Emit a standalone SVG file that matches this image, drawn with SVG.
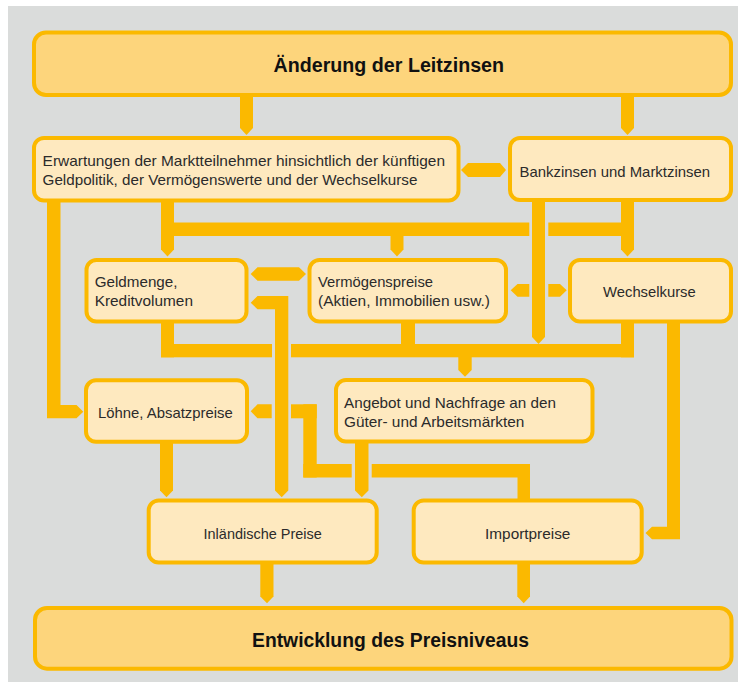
<svg xmlns="http://www.w3.org/2000/svg" width="742" height="686" viewBox="0 0 742 686">
<style>
.bg{fill:#DADCDB}
.box{fill:#FEE9BF;stroke:#FBB900;stroke-width:4}
.main{fill:#FDD57C;stroke:#FBB900;stroke-width:4}
.c{fill:#FBB900}
text{font-family:"Liberation Sans",Arial,sans-serif;fill:#2b2b2b;font-size:15px}
.t{font-size:19.5px;font-weight:bold;fill:#111}
.m{text-anchor:middle}
</style>
<rect class="bg" x="8" y="6" width="730" height="676"/>
<g id="connectors" class="c">
  <polygon points="240,95 253,95 253,128 246.5,135 240,128"/>
  <polygon points="621,95 634,95 634,128 627.5,135 621,128"/>
  <polygon points="461,170 468,163 500,163 506,170 500,177 468,177"/>
  <path d="M47,200 H60.5 V405 H76.5 L83.3,411.7 L76.5,418.3 H47 Z"/>
  <polygon points="161,200 174,200 174,249.5 167.5,256.5 161,249.5"/>
  <rect x="161" y="222.5" width="368.3" height="13.5"/>
  <rect x="548.3" y="222.5" width="85.7" height="13.5"/>
  <polygon points="390.5,230 403.5,230 403.5,249.5 397,256.5 390.5,249.5"/>
  <polygon points="532,200 545,200 545,337 538.5,344 532,337"/>
  <polygon points="621,200 634,200 634,249.5 627.5,256.5 621,249.5"/>
  <polygon points="250.7,274 257.5,267.3 299,267.3 306,274 299,280.7 257.5,280.7"/>
  <polygon points="510.7,290.3 517.5,284 529.3,284 529.3,296.7 517.5,296.7"/>
  <polygon points="548.3,284 560,284 566.7,290.3 560,296.7 548.3,296.7"/>
  <path d="M250.7,302.7 L257.5,296 H288.3 V490.5 L281.7,497.3 L275,490.5 V309.3 H257.5 Z"/>
  <rect x="161" y="321" width="13" height="36.3"/>
  <rect x="161" y="344" width="111" height="13.3"/>
  <rect x="291" y="344" width="343" height="13.3"/>
  <rect x="401" y="321" width="14" height="25"/>
  <rect x="621" y="321" width="13" height="36.3"/>
  <polygon points="458.3,355 471.7,355 471.7,370 465,376.7 458.3,370"/>
  <path d="M667,321 H680 V539.3 H652 L645.5,533 L652,526.7 H667 Z"/>
  <polygon points="160,441 173,441 173,490.5 166.5,497.3 160,490.5"/>
  <polygon points="355,441 368.5,441 368.5,490.5 361.8,497.3 355,490.5"/>
  <rect x="517.5" y="464" width="12.5" height="37"/>
  <rect x="371.7" y="464" width="158.3" height="13.5"/>
  <rect x="303.3" y="464" width="48.4" height="13.5"/>
  <rect x="303.3" y="404.3" width="13.4" height="73.2"/>
  <rect x="291" y="404.3" width="25.7" height="14"/>
  <polygon points="250.7,411.3 257.5,404.3 271.7,404.3 271.7,418.3 257.5,418.3"/>
  <polygon points="260.3,562 273.5,562 273.5,596.5 267,603.3 260.3,596.5"/>
  <polygon points="517.3,562 530,562 530,596.5 523.7,603.3 517.3,596.5"/>
</g>
<g id="leitzinsen">
  <rect class="main" x="34" y="32.5" width="697" height="62.5" rx="12"/>
  <text class="t m" x="388.8" y="72" textLength="230.5" lengthAdjust="spacingAndGlyphs">Änderung der Leitzinsen</text>
</g>
<g id="erwartungen">
  <rect class="box" x="34" y="138" width="424.5" height="62.5" rx="10"/>
  <text x="42.6" y="166.3" textLength="402.4" lengthAdjust="spacingAndGlyphs">Erwartungen der Marktteilnehmer hinsichtlich der künftigen</text>
  <text x="42.6" y="184.5" textLength="374.8" lengthAdjust="spacingAndGlyphs">Geldpolitik, der Vermögenswerte und der Wechselkurse</text>
</g>
<g id="bankzinsen">
  <rect class="box" x="510" y="138" width="221" height="62" rx="10"/>
  <text class="m" x="614.8" y="176.7" textLength="190.4" lengthAdjust="spacingAndGlyphs">Bankzinsen und Marktzinsen</text>
</g>
<g id="geldmenge">
  <rect class="box" x="86.5" y="260" width="160" height="61.5" rx="10"/>
  <text x="94.7" y="287.3" textLength="82.8" lengthAdjust="spacingAndGlyphs">Geldmenge,</text>
  <text x="94.7" y="306" textLength="98.3" lengthAdjust="spacingAndGlyphs">Kreditvolumen</text>
</g>
<g id="vermoegenspreise">
  <rect class="box" x="309.5" y="260" width="196.5" height="61.5" rx="10"/>
  <text x="318" y="287.3" textLength="115" lengthAdjust="spacingAndGlyphs">Vermögenspreise</text>
  <text x="318" y="306" textLength="172" lengthAdjust="spacingAndGlyphs">(Aktien, Immobilien usw.)</text>
</g>
<g id="wechselkurse">
  <rect class="box" x="570" y="260" width="161" height="61.5" rx="10"/>
  <text class="m" x="649.4" y="296.7" textLength="92.7" lengthAdjust="spacingAndGlyphs">Wechselkurse</text>
</g>
<g id="loehne">
  <rect class="box" x="86" y="380.3" width="161" height="61.5" rx="10"/>
  <text x="98" y="418.3" textLength="134.8" lengthAdjust="spacingAndGlyphs">Löhne, Absatzpreise</text>
</g>
<g id="angebot">
  <rect class="box" x="336" y="380" width="256.5" height="61.5" rx="10"/>
  <text x="344" y="408" textLength="212" lengthAdjust="spacingAndGlyphs">Angebot und Nachfrage an den</text>
  <text x="344" y="426.7" textLength="180.4" lengthAdjust="spacingAndGlyphs">Güter- und Arbeitsmärkten</text>
</g>
<g id="inlaendische">
  <rect class="box" x="148.7" y="500.5" width="228" height="62" rx="10"/>
  <text class="m" x="262.7" y="539" textLength="118.3" lengthAdjust="spacingAndGlyphs">Inländische Preise</text>
</g>
<g id="importpreise">
  <rect class="box" x="413.7" y="500.5" width="228" height="62" rx="10"/>
  <text class="m" x="527.7" y="539" textLength="85.3" lengthAdjust="spacingAndGlyphs">Importpreise</text>
</g>
<g id="preisniveau">
  <rect class="main" x="35" y="608" width="696.5" height="60.7" rx="12"/>
  <text class="t m" x="390.5" y="647" textLength="277" lengthAdjust="spacingAndGlyphs">Entwicklung des Preisniveaus</text>
</g>
</svg>
